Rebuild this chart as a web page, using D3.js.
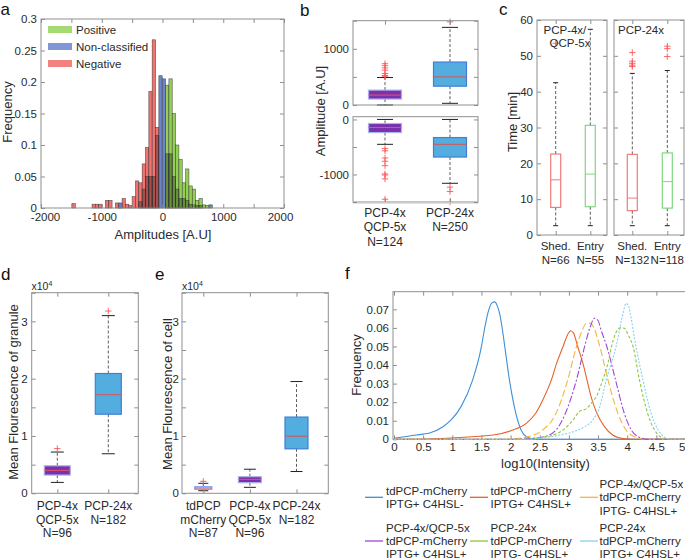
<!DOCTYPE html>
<html><head><meta charset="utf-8">
<script src="https://cdn.jsdelivr.net/npm/d3@7"></script>
<style>body{margin:0;background:#fff}svg{display:block}</style>
</head><body>
<script>
// ================= DATA =================
// panel a: histogram (bin lower edges, bin width, frequencies)
const histBinWidth = 55;
const negBins = [-1490,-1160,-1105,-1050,-940,-885,-775,-720,-665,-610,-555,-500,-445,-390,-335,-280,-225,-170,-115];
const negFreq = [0.007,0.006,0.006,0.006,0.012,0.012,0.008,0.004,0.015,0.006,0.004,0.018,0.043,0.04,0.07,0.096,0.185,0.267,0.128];
const nonBins = [-720,-60,-5,765];
const nonFreq = [0.008,0.21,0.205,0.005];
const posBins = [50,105,160,215,270,325,380,435,490,545,600,655,710];
const posFreq = [0.195,0.205,0.15,0.10,0.077,0.04,0.062,0.035,0.03,0.012,0.015,0.005,0.004];
const overlapBins = [-390,-335,-280,-225,-170,-115,50,105,160,215,270,325,380,435,490,545,600];
const overlapFreq = [0.01,0.03,0.05,0.05,0.05,0.115,0.086,0.086,0.05,0.03,0.015,0.015,0.012,0.006,0.005,0.004,0.004];
const aLegend = ["Positive","Non-classified","Negative"];
const aXTicks = [-2000,-1500,-1000,-500,0,500,1000,1500,2000];
const aYTicks = [0,0.05,0.1,0.15,0.2,0.25,0.3];

// panel b: amplitude box plots (positive / negative)
const bCats = ["PCP-4x","PCP-24x"];
const bLabels = [["PCP-4x","QCP-5x","N=124"],["PCP-24x","N=250"]];
const bPosStats = [
  {name:"PCP-4x", lo:0, q1:106, med:176, q3:265, hi:489, out:[510,525,560,620,660,700,735]},
  {name:"PCP-24x", lo:30, q1:335, med:500, q3:764, hi:1381, out:[1480]}
];
const bNegStats = [
  {name:"PCP-4x", lo:-452, q1:-238, med:-146, q3:-73, hi:0, out:[-530,-570,-700,-760,-840,-990,-1010,-1080,-1450]},
  {name:"PCP-24x", lo:-1160, q1:-683, med:-452, q3:-329, hi:0, out:[-1230,-1310,-1500]}
];
const bTopTicks = [0,500,1000,1500];
const bBotTicks = [-1500,-1000,-500,0];

// panel c: time box plots
const cCats = ["Shed.","Entry"];
const cLeftN = ["N=66","N=55"];
const cRightN = ["N=132","N=118"];
const cLeftStats = [
  {name:"Shed.", lo:2.6, q1:7.7, med:15.4, q3:22.6, hi:42.5, out:[53.5]},
  {name:"Entry", lo:2.6, q1:7.9, med:17.0, q3:30.6, hi:57.4, out:[]}
];
const cRightStats = [
  {name:"Shed.", lo:2.6, q1:6.8, med:10.3, q3:22.5, hi:45.1, out:[47.0,47.4,47.9,48.5,50.9]},
  {name:"Entry", lo:2.6, q1:7.5, med:14.9, q3:22.9, hi:45.9, out:[49.8,52.0,52.7]}
];
const cTicks = [0,10,20,30,40,50,60];

// panel d: granule fluorescence
const dCats = ["PCP-4x","PCP-24x"];
const dLabels = [["PCP-4x","QCP-5x","N=96"],["PCP-24x","N=182"]];
const dStats = [
  {name:"PCP-4x", lo:1900, q1:3180, med:4000, q3:4800, hi:7200, out:[7800]},
  {name:"PCP-24x", lo:6900, q1:13800, med:17200, q3:20900, hi:31000, out:[31800]}
];
// panel e: cell fluorescence
const eCats = ["tdPCP","PCP-4x","PCP-24x"];
const eLabels = [["tdPCP","mCherry","N=87"],["PCP-4x","QCP-5x","N=96"],["PCP-24x","N=182"]];
const eStats = [
  {name:"tdPCP", lo:450, q1:700, med:920, q3:1150, hi:1740, out:[2090]},
  {name:"PCP-4x", lo:1040, q1:1850, med:2430, q3:2900, hi:4200, out:[]},
  {name:"PCP-24x", lo:3800, q1:7760, med:9960, q3:13300, hi:19500, out:[]}
];
const fluoTicks = [0,5000,10000,15000,20000,25000,30000,35000];

// panel f: intensity distributions [log10(intensity), frequency]
const fTdNeg = [[0,0.0006],[0.27,0.0018],[0.5,0.0028],[0.61,0.0034],[0.84,0.0068],[0.98,0.0104],[1.15,0.0176],[1.35,0.032],[1.5,0.05],[1.55,0.059],[1.61,0.068],[1.68,0.0735],[1.73,0.074],[1.77,0.072],[1.81,0.068],[1.86,0.059],[1.9,0.05],[1.98,0.032],[2.09,0.014],[2.18,0.005],[2.27,0.0014],[2.4,0.0002],[2.6,0],[5,0]];
const fTdPos = [[0,0],[0.5,0.0002],[1.13,0.001],[1.7,0.0023],[2.04,0.005],[2.27,0.0086],[2.43,0.014],[2.58,0.023],[2.7,0.032],[2.79,0.041],[2.9,0.05],[2.98,0.0565],[3.03,0.0585],[3.08,0.0572],[3.15,0.05],[3.24,0.041],[3.31,0.032],[3.38,0.023],[3.48,0.014],[3.61,0.0068],[3.75,0.0023],[3.93,0.0004],[4.1,0],[5,0]];
const f4xNoIptg = [[0,0],[1.8,0],[2.1,0.0004],[2.3,0.0014],[2.55,0.005],[2.78,0.014],[2.98,0.032],[3.13,0.05],[3.22,0.058],[3.3,0.0625],[3.37,0.0625],[3.43,0.06],[3.53,0.05],[3.67,0.032],[3.84,0.014],[3.98,0.005],[4.15,0.0011],[4.3,0],[5,0]];
const f4xIptg = [[0,0],[2.0,0],[2.33,0.0004],[2.58,0.0014],[2.78,0.005],[2.94,0.014],[3.13,0.032],[3.27,0.05],[3.36,0.06],[3.44,0.0652],[3.5,0.064],[3.55,0.059],[3.65,0.05],[3.8,0.032],[3.95,0.014],[4.07,0.005],[4.21,0.0011],[4.35,0],[5,0]];
const f24xNoIptg = [[0,0],[2.2,0],[2.5,0.0009],[2.73,0.0023],[2.9,0.005],[3.07,0.0104],[3.18,0.015],[3.3,0.0165],[3.4,0.02],[3.47,0.023],[3.58,0.032],[3.67,0.041],[3.73,0.05],[3.8,0.057],[3.88,0.06],[3.95,0.0598],[4.02,0.056],[4.1,0.05],[4.21,0.032],[4.35,0.014],[4.47,0.005],[4.58,0.0011],[4.7,0],[5,0]];
const f24xIptg = [[0,0],[2.3,0],[2.5,0.0005],[2.84,0.0023],[3.07,0.004],[3.27,0.0068],[3.41,0.0104],[3.53,0.0176],[3.64,0.032],[3.81,0.05],[3.93,0.068],[3.98,0.0732],[4.02,0.072],[4.05,0.068],[4.15,0.05],[4.27,0.032],[4.41,0.014],[4.53,0.005],[4.64,0.0011],[4.75,0],[5,0]];
const fLegend = [
  ["tdPCP-mCherry","IPTG+ C4HSL-"],
  ["tdPCP-mCherry","IPTG+ C4HSL+"],
  ["PCP-4x/QCP-5x","tdPCP-mCherry","IPTG- C4HSL+"],
  ["PCP-4x/QCP-5x","tdPCP-mCherry","IPTG+ C4HSL+"],
  ["PCP-24x","tdPCP-mCherry","IPTG- C4HSL+"],
  ["PCP-24x","tdPCP-mCherry","IPTG+ C4HSL+"]
];
const fXTicks = [0,0.5,1,1.5,2,2.5,3,3.5,4,4.5,5];
const fYTicks = [0,0.01,0.02,0.03,0.04,0.05,0.06,0.07];

// ================= DRAWING =================
const FONT = '"Liberation Sans", Arial, Helvetica, sans-serif';
const GRAY = "#8f8f8f", TXT = "#2a2a2a";
const svg = d3.select("body").append("svg").attr("width",685).attr("height",560)
  .style("font-family",FONT);

function frame(g,x0,y0,x1,y1){
  g.append("rect").attr("x",x0).attr("y",y0).attr("width",x1-x0).attr("height",y1-y0)
   .attr("fill","none").attr("stroke",GRAY).attr("stroke-width",1);
}
function axis(g,gen,tx,ty,fs){
  const a = g.append("g").attr("transform",`translate(${tx},${ty})`).call(gen);
  a.attr("font-family",FONT).attr("font-size",fs||11.5);
  a.select(".domain").remove();
  a.selectAll(".tick line").attr("stroke",GRAY);
  a.selectAll(".tick text").attr("fill",TXT);
  return a;
}
function text(g,x,y,s,opt){
  opt=opt||{};
  return g.append("text").attr("x",x).attr("y",y).text(s)
    .attr("font-size",opt.fs||12).attr("fill",opt.fill||TXT)
    .attr("text-anchor",opt.anchor||"start");
}
function vlabel(g,x,y,s,fs){
  g.append("text").attr("transform",`translate(${x},${y}) rotate(-90)`)
   .attr("text-anchor","middle").attr("font-size",fs||13).attr("fill",TXT).text(s);
}
function letter(x,y,s){ text(svg,x,y,s,{fs:17,fill:"#111"}); }
function plus(g,cx,cy,col){
  const r=3.2;
  g.append("path").attr("d",`M${cx-r},${cy}H${cx+r}M${cx},${cy-r}V${cy+r}`)
   .attr("stroke",col||"#ff5555").attr("stroke-width",0.9).attr("fill","none");
}
function boxes(g,xS,yS,stats,style){
  stats.forEach(d=>{
    const cx=xS(d.name), st=style(d), bw=st.bw, cw=st.cw;
    g.append("line").attr("x1",cx).attr("x2",cx).attr("y1",yS(d.q3)).attr("y2",yS(d.hi))
      .attr("stroke","#333").attr("stroke-width",0.8).attr("stroke-dasharray","3,2");
    g.append("line").attr("x1",cx).attr("x2",cx).attr("y1",yS(d.q1)).attr("y2",yS(d.lo))
      .attr("stroke","#333").attr("stroke-width",0.8).attr("stroke-dasharray","3,2");
    [d.hi,d.lo].forEach(v=>g.append("line").attr("x1",cx-cw/2).attr("x2",cx+cw/2)
      .attr("y1",yS(v)).attr("y2",yS(v)).attr("stroke","#222").attr("stroke-width",1));
    g.append("rect").attr("x",cx-bw/2).attr("y",yS(d.q3)).attr("width",bw)
      .attr("height",Math.abs(yS(d.q1)-yS(d.q3))).attr("fill",st.fill).attr("stroke",st.stroke).attr("stroke-width",1.2);
    g.append("line").attr("x1",cx-bw/2).attr("x2",cx+bw/2).attr("y1",yS(d.med)).attr("y2",yS(d.med))
      .attr("stroke",st.med).attr("stroke-width",1);
    d.out.forEach(v=>plus(g,cx,yS(v)));
  });
}
function catLabels(g,xS,cats,labels,y0,dy,fs){
  cats.forEach((c,i)=>labels[i].forEach((s,j)=>text(g,xS(c),y0+j*dy,s,{fs:fs||12,anchor:"middle"})));
}
const PURPLE={fill:"#7a31ab",stroke:"#a9b3ee",med:"#e3556a"};
const SKY={fill:"#53addf",stroke:"#3f80d6",med:"#d9534f"};

// ---------- panel a ----------
const ga = svg.append("g");
const aX = d3.scaleLinear().domain([-2000,2000]).range([41,284]);
const aY = d3.scaleLinear().domain([0,0.3]).range([208,19]);
function bars(bins,freq,fill,op){
  ga.append("g").selectAll("rect").data(bins.map((b,i)=>({b,f:freq[i]}))).join("rect")
    .attr("x",d=>aX(d.b)).attr("width",d=>aX(d.b+histBinWidth)-aX(d.b))
    .attr("y",d=>aY(d.f)).attr("height",d=>aY(0)-aY(d.f))
    .attr("fill",fill).attr("fill-opacity",op)
    .attr("stroke","#333").attr("stroke-width",0.6).attr("stroke-opacity",0.8);
}
bars(negBins,negFreq,"#f0736f",1);
bars(posBins,posFreq,"#93d055",1);
bars(nonBins,nonFreq,"#6d84c9",1);
bars(overlapBins,overlapFreq,"#000",0.3);
frame(ga,41,19,284,208);
axis(ga,d3.axisLeft(aY).tickValues(aYTicks).tickFormat(d=>String(+d.toFixed(2))).tickSize(-4).tickPadding(4),41,0);
axis(ga,d3.axisRight(aY).tickValues(aYTicks).tickFormat("").tickSize(-4),284,0);
const aBottom = axis(ga,d3.axisBottom(aX).tickValues(aXTicks).tickFormat(d=>d%1000===0?d:"").tickSize(-4).tickPadding(5),0,208);
aBottom.selectAll(".tick text").filter(d=>d===-2000).attr("dx",4);
aBottom.selectAll(".tick text").filter(d=>d===2000).attr("dx",-4);
axis(ga,d3.axisTop(aX).tickValues(aXTicks).tickFormat("").tickSize(-4),0,19);
const aLegCol = ["#a6db74","#8196d4","#f2827f"];
aLegend.forEach((s,i)=>{
  const cy=[29.5,46.5,63.5][i];
  ga.append("rect").attr("x",48).attr("y",cy-3.5).attr("width",24).attr("height",7).attr("fill",aLegCol[i]);
  text(ga,76,cy,s,{fs:11.5}).attr("dominant-baseline","central");
});
text(ga,163,238.5,"Amplitudes [A.U]",{fs:13,anchor:"middle"});
vlabel(ga,11.5,112,"Frequency");
letter(0.5,15,"a");

// ---------- panel b ----------
const gb = svg.append("g");
const bX = d3.scalePoint().domain(bCats).range([385,450]);
const bYt = d3.scaleLinear().domain([0,1500]).range([105,20.7]);
const bYb = d3.scaleLinear().domain([-1500,50]).range([202,116.7]);
const bStyle = d=> d.name==="PCP-4x" ? Object.assign({bw:33,cw:16},PURPLE) : Object.assign({bw:33,cw:16},SKY);
boxes(gb,bX,bYt,bPosStats,bStyle);
boxes(gb,bX,bYb,bNegStats,bStyle);
frame(gb,353,20.7,478,105);
frame(gb,353,116.7,478,202);
gb.append("line").attr("x1",353).attr("x2",478).attr("y1",202.5).attr("y2",202.5).attr("stroke","#c8c8c8").attr("stroke-width",2);
axis(gb,d3.axisLeft(bYt).tickValues(bTopTicks).tickFormat(d=>d%1000===0?d:"").tickSize(-4).tickPadding(4),353,0);
axis(gb,d3.axisRight(bYt).tickValues(bTopTicks).tickFormat("").tickSize(-4),478,0);
axis(gb,d3.axisLeft(bYb).tickValues(bBotTicks).tickFormat(d=>d%1000===0?d:"").tickSize(-4).tickPadding(4),353,0);
axis(gb,d3.axisRight(bYb).tickValues(bBotTicks).tickFormat("").tickSize(-4),478,0);
axis(gb,d3.axisTop(bX).tickFormat("").tickSize(-4),0,20.7);
axis(gb,d3.axisBottom(bX).tickFormat("").tickSize(-4),0,202);
catLabels(gb,bX,bCats,bLabels,216.5,14.5,12);
vlabel(gb,324.5,111,"Amplitude [A.U]");
letter(300,15.5,"b");

// ---------- panel c ----------
const gc = svg.append("g");
const cY = d3.scaleLinear().domain([0,60]).range([235,20]);
const cXl = d3.scalePoint().domain(cCats).range([555.7,590.3]);
const cXr = d3.scalePoint().domain(cCats).range([632.3,667.3]);
const cStyle = d=> d.name==="Shed." ? {bw:10,cw:5,fill:"none",stroke:"#f27b7b",med:"#f27b7b"} : {bw:10,cw:5,fill:"none",stroke:"#7fd87f",med:"#7fd87f"};
boxes(gc,cXl,cY,cLeftStats,cStyle);
boxes(gc,cXr,cY,cRightStats,cStyle);
[[537,607,cXl],[614,684,cXr]].forEach(([x0,x1,xs],k)=>{
  frame(gc,x0,20,x1,235);
  axis(gc,d3.axisLeft(cY).tickValues(cTicks).tickFormat(k===0?d3.format("d"):"").tickSize(-4).tickPadding(4),x0,0);
  axis(gc,d3.axisRight(cY).tickValues(cTicks).tickFormat("").tickSize(-4),x1,0);
  axis(gc,d3.axisTop(xs).tickFormat("").tickSize(-4),0,20);
  axis(gc,d3.axisBottom(xs).tickFormat("").tickSize(-4),0,235);
});
cCats.forEach((c,i)=>{
  text(gc,cXl(c),250,c,{fs:11.5,anchor:"middle"});
  text(gc,cXl(c),263.5,cLeftN[i],{fs:11.5,anchor:"middle"});
  text(gc,cXr(c),250,c,{fs:11.5,anchor:"middle"});
  text(gc,cXr(c),263.5,cRightN[i],{fs:11.5,anchor:"middle"});
});
text(gc,543.5,34.3,"PCP-4x/",{fs:11.5});
text(gc,549.5,47,"QCP-5x",{fs:11.5});
text(gc,618,34.3,"PCP-24x",{fs:11.5});
vlabel(gc,516.5,122,"Time [min]");
letter(499,15,"c");

// ---------- panel d ----------
const gd = svg.append("g");
const fluoY = d3.scaleLinear().domain([0,35000]).range([493.3,292.7]);
const dX = d3.scalePoint().domain(dCats).range([57.3,108.3]);
boxes(gd,dX,fluoY,dStats,d=> d.name==="PCP-4x" ? Object.assign({bw:26,cw:13},PURPLE) : Object.assign({bw:26,cw:13},SKY));
frame(gd,31.7,292.7,138.3,493.3);
const fluoFmt = d=> d%10000===0 ? String(d/10000) : "";
axis(gd,d3.axisLeft(fluoY).tickValues(fluoTicks).tickFormat(fluoFmt).tickSize(-4).tickPadding(4),31.7,0);
axis(gd,d3.axisRight(fluoY).tickValues(fluoTicks).tickFormat("").tickSize(-4),138.3,0);
axis(gd,d3.axisTop(dX).tickFormat("").tickSize(-4),0,292.7);
axis(gd,d3.axisBottom(dX).tickFormat("").tickSize(-4),0,493.3);
catLabels(gd,dX,dCats,dLabels,510,13.5,12);
function x104(g,x,y){
  const t=text(g,x,y,"x10",{fs:10.5});
  t.append("tspan").attr("dy",-4).attr("font-size",7).text("4");
}
x104(gd,31.5,290);
vlabel(gd,17.5,392,"Mean Flourescence of granule");
letter(1,280,"d");

// ---------- panel e ----------
const ge = svg.append("g");
const eX = d3.scalePoint().domain(eCats).range([203.3,296.5]);
boxes(ge,eX,fluoY,eStats,d=> d.name==="tdPCP" ? {bw:17,cw:10,fill:"#fff",stroke:"#7c9dff",med:"#e04848"}
  : d.name==="PCP-4x" ? Object.assign({bw:23,cw:12},PURPLE) : Object.assign({bw:23,cw:12},SKY));
frame(ge,182,292.7,328.3,493.3);
axis(ge,d3.axisLeft(fluoY).tickValues(fluoTicks).tickFormat(fluoFmt).tickSize(-4).tickPadding(3),182,0);
axis(ge,d3.axisRight(fluoY).tickValues(fluoTicks).tickFormat("").tickSize(-4),328.3,0);
axis(ge,d3.axisTop(eX).tickFormat("").tickSize(-4),0,292.7);
axis(ge,d3.axisBottom(eX).tickFormat("").tickSize(-4),0,493.3);
catLabels(ge,eX,eCats,eLabels,510,13.5,12);
x104(ge,182,290);
vlabel(ge,172,394,"Mean Flourescence of cell");
letter(155,280,"e");

// ---------- panel f ----------
const gf = svg.append("g");
const fX = d3.scaleLinear().domain([0,5]).range([394,685.5]);
const fY = d3.scaleLinear().domain([0,0.0795]).range([439.3,291.7]);
frame(gf,393,291.7,685.5,439.3);
axis(gf,d3.axisLeft(fY).tickValues(fYTicks).tickFormat(d=>String(+d.toFixed(2))).tickSize(-4).tickPadding(4),393,0);
const fBottom = axis(gf,d3.axisBottom(fX).tickValues(fXTicks).tickFormat(d=>String(d)).tickSize(-4).tickPadding(4),0,439.3);
fBottom.selectAll(".tick text").filter(d=>d===5).attr("text-anchor","end").attr("dx",-0.5);
axis(gf,d3.axisTop(fX).tickValues(fXTicks).tickFormat("").tickSize(-4),0,291.7);
const fSeries = [
  {data:fTdNeg,col:"#3d8fd9",dash:null},
  {data:fTdPos,col:"#e6622b",dash:null},
  {data:f4xNoIptg,col:"#f5b53c",dash:"7,3"},
  {data:f4xIptg,col:"#a048d4",dash:"7,2,2,2"},
  {data:f24xNoIptg,col:"#8dc63f",dash:"3,2"},
  {data:f24xIptg,col:"#86d2ef",dash:"2,1.5"}
];
const fLine = d3.line().x(d=>fX(d[0])).y(d=>fY(d[1])).curve(d3.curveMonotoneX);
fSeries.forEach(s=>gf.append("path").attr("d",fLine(s.data)).attr("fill","none")
  .attr("stroke",s.col).attr("stroke-width",1.1).attr("stroke-dasharray",s.dash));
text(gf,545.5,468,"log10(Intensity)",{fs:13,anchor:"middle"});
vlabel(gf,361,365,"Frequency");
letter(345,278.5,"f");
// legend
const legCols = [[365,386],[470,490.5],[580,599.5]];
const legRows = [497.3,541];
fLegend.forEach((lines,i)=>{
  const [lx,tx]=legCols[i%3], ly=legRows[Math.floor(i/3)];
  gf.append("line").attr("x1",lx).attr("x2",lx+18).attr("y1",ly).attr("y2",ly)
    .attr("stroke",fSeries[i].col).attr("stroke-width",1.3);
  lines.forEach((s,j)=>text(gf,tx,ly+(j-(lines.length-1)/2)*13.3,s,{fs:11.5}).attr("dominant-baseline","central"));
});
</script>
</body></html>
